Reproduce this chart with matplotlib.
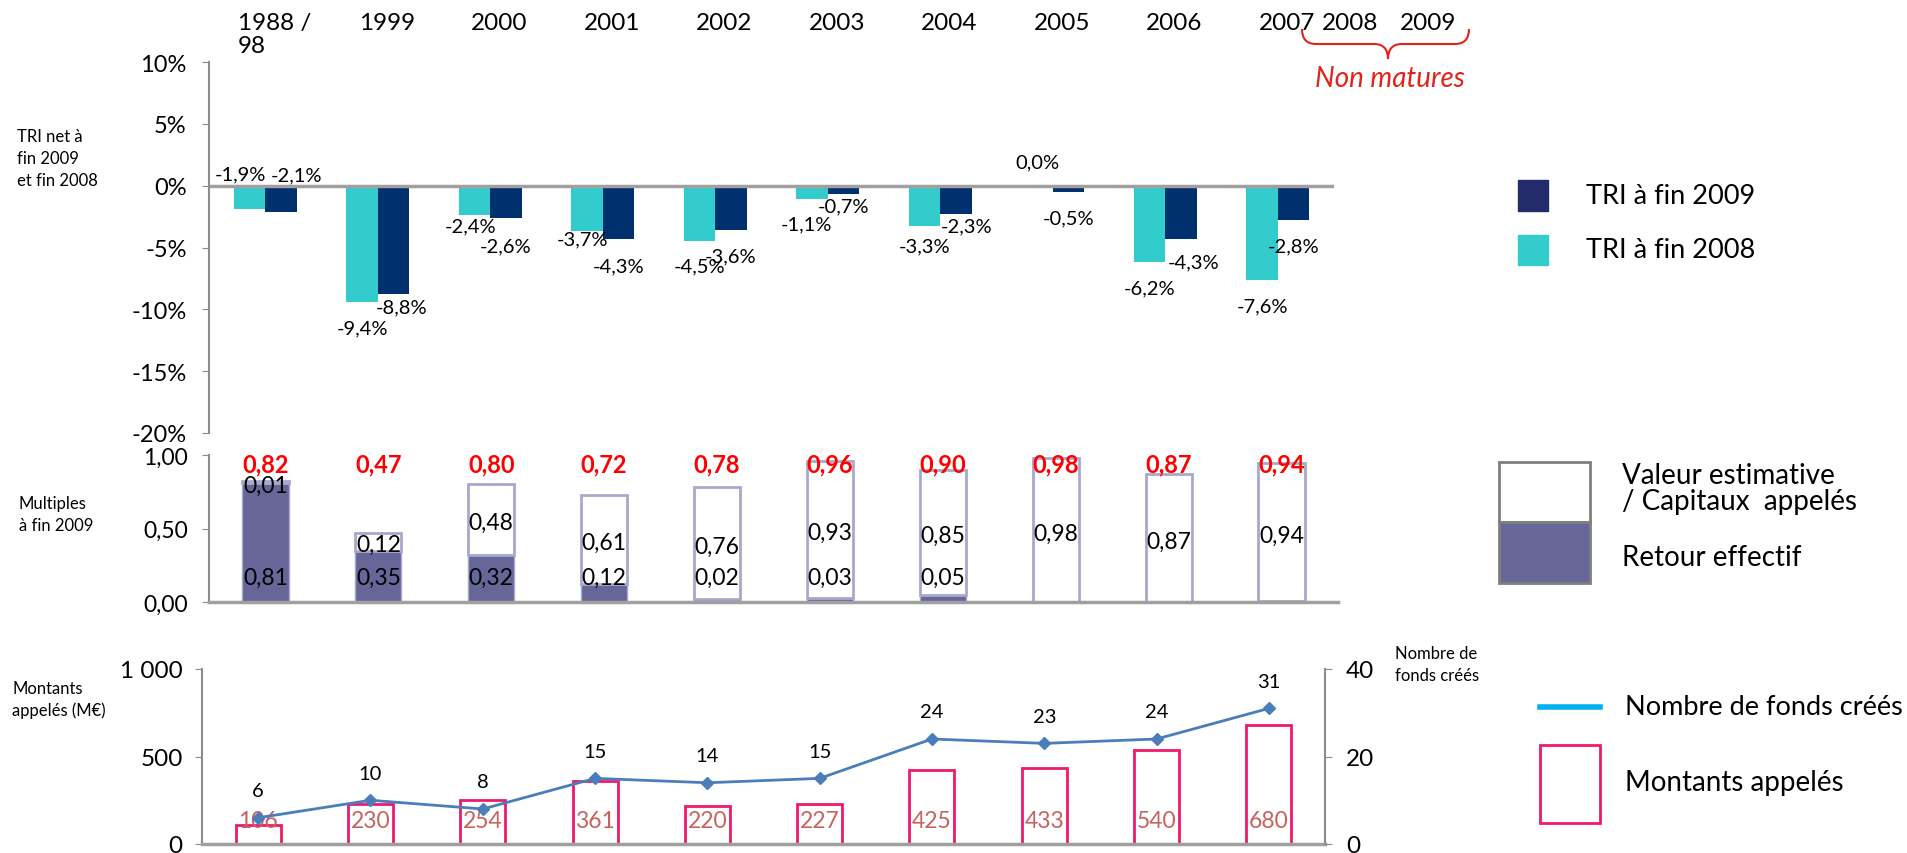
import matplotlib
matplotlib.use("Agg")
import matplotlib.pyplot as plt
from matplotlib.patches import Rectangle, PathPatch
from matplotlib.path import Path
from matplotlib.transforms import blended_transform_factory
import numpy as np

plt.rcParams['font.family'] = ['Lato', 'DejaVu Sans']

# --- data ---
years = ["1988 /\n98", "1999", "2000", "2001", "2002", "2003", "2004", "2005", "2006", "2007"]
extra_years = ["2008", "2009"]

tri_2008 = [-1.9, -9.4, -2.4, -3.7, -4.5, -1.1, -3.3, 0.0, -6.2, -7.6]
tri_2009 = [-2.1, -8.8, -2.6, -4.3, -3.6, -0.7, -2.3, -0.5, -4.3, -2.8]

retour = [0.81, 0.35, 0.32, 0.12, 0.02, 0.03, 0.05, 0.0, 0.0, 0.004]
valeur = [0.01, 0.12, 0.48, 0.61, 0.76, 0.93, 0.85, 0.98, 0.87, 0.94]
multiple_total = [0.82, 0.47, 0.80, 0.72, 0.78, 0.96, 0.90, 0.98, 0.87, 0.94]

montants = [106, 230, 254, 361, 220, 227, 425, 433, 540, 680]
nb_fonds = [6, 10, 8, 15, 14, 15, 24, 23, 24, 31]

# label nudges in pixels (excel moved them around to avoid overlaps)
nudge_2008 = [(-9, 35), (0, -26), (-4, -11), (-4, -7), (0, -25), (-6, -25), (0, -19), (0, 24), (0, -26), (0, -26)]
nudge_2009 = [(16, 37), (8, -12), (0, -28), (0, -27), (0, -26), (0, -12), (11, -12), (0, -26), (13, -23), (0, -26)]

CYAN = '#33CCCC'
NAVY = '#00306E'
NAVY_LEG = '#232B6B'
PURPLE = '#666699'
LAVENDER = '#A8A8CC'
PINK = '#EE1A6E'
LINE = '#4A7EBB'
GRAY = '#8C8C8C'
RED = '#E3221B'


def fmt_fr(v, nd=1):
    return f"{v:.{nd}f}".replace('.', ',')


W, H = 1907, 854
fig = plt.figure(figsize=(W / 100, H / 100), dpi=100)


def box(l, t, r, b):
    return [l / W, 1 - b / H, (r - l) / W, (b - t) / H]


x = np.arange(len(years))

# --- top: TRI ---
ax1 = fig.add_axes(box(209, 63, 1334, 434))
bw = 0.28
ax1.bar(x - bw / 2, tri_2008, bw, color=CYAN)
ax1.bar(x + bw / 2, tri_2009, bw, color=NAVY)
ax1.axhline(0, color='#A0A0A0', lw=2.5)
ax1.set_xlim(-0.5, 9.5)
ax1.set_ylim(-20, 10)
ax1.set_yticks(np.arange(-20, 11, 5))
ax1.set_yticklabels([f"{v}%" for v in range(-20, 11, 5)])
ax1.set_xticks([])
for s in ['top', 'right', 'bottom']:
    ax1.spines[s].set_visible(False)
ax1.spines['left'].set_color(GRAY)
ax1.spines['left'].set_linewidth(1.5)
ax1.tick_params(axis='y', direction='out', length=5, color=GRAY, labelsize=17, pad=11)

for i in range(len(years)):
    ax1.annotate(fmt_fr(tri_2008[i]) + "%", (x[i] - bw / 2, tri_2008[i]),
                 xytext=nudge_2008[i], textcoords='offset pixels',
                 ha='center', va='center', fontsize=14.5)
    ax1.annotate(fmt_fr(tri_2009[i]) + "%", (x[i] + bw / 2, tri_2009[i]),
                 xytext=nudge_2009[i], textcoords='offset pixels',
                 ha='center', va='center', fontsize=14.5)

# --- middle: multiples ---
ax2 = fig.add_axes(box(209, 456, 1338, 603))
mw = 0.41
ax2.bar(x, retour, mw, color=PURPLE, edgecolor=LAVENDER, lw=1)
ax2.bar(x, valeur, mw, bottom=retour, color='white', edgecolor=LAVENDER, lw=2)
ax2.set_xlim(-0.5, 9.5)
ax2.set_ylim(0, 1)
ax2.set_yticks([0, 0.5, 1.0])
ax2.set_yticklabels(["0,00", "0,50", "1,00"])
ax2.set_xticks([])
for s in ['top', 'right']:
    ax2.spines[s].set_visible(False)
ax2.spines['left'].set_color(GRAY)
ax2.spines['left'].set_linewidth(1.5)
ax2.spines['bottom'].set_color('#A0A0A0')
ax2.spines['bottom'].set_linewidth(2.5)
ax2.tick_params(axis='y', direction='out', length=5, color=GRAY, labelsize=16.5, pad=10)

for i in range(len(years)):
    ax2.text(x[i], 0.94, fmt_fr(multiple_total[i], 2), color='red', fontweight='bold',
             ha='center', va='center', fontsize=17)
    ax2.text(x[i], retour[i] + valeur[i] / 2 - 0.02, fmt_fr(valeur[i], 2),
             ha='center', va='center', fontsize=16.5)
    if retour[i] >= 0.01:
        ax2.text(x[i], 0.17, fmt_fr(retour[i], 2), ha='center', va='center', fontsize=16.5)

# --- bottom: montants + nombre de fonds ---
ax3 = fig.add_axes(box(202, 670, 1325, 845))
ax3.bar(x, montants, 0.4, color='white', edgecolor=PINK, lw=2)
ax3.set_xlim(-0.5, 9.5)
ax3.set_ylim(0, 1000)
ax3.set_yticks([0, 500, 1000])
ax3.set_yticklabels(["0", "500", "1 000"])
ax3.set_xticks([])
for s in ['top', 'right']:
    ax3.spines[s].set_visible(False)
ax3.spines['left'].set_color(GRAY)
ax3.spines['left'].set_linewidth(1.5)
ax3.spines['bottom'].set_color('#A0A0A0')
ax3.spines['bottom'].set_linewidth(2.5)
ax3.tick_params(axis='y', direction='out', length=5, color=GRAY, labelsize=17.5, pad=9)
for i in range(len(years)):
    ax3.text(x[i], 137, str(montants[i]), color='#C8625F', ha='center', va='center', fontsize=16.5)

ax3b = ax3.twinx()
ax3b.plot(x, nb_fonds, color=LINE, lw=2, marker='D', ms=6)
ax3b.set_ylim(0, 40)
ax3b.set_yticks([0, 20, 40])
for s in ['top', 'left', 'bottom']:
    ax3b.spines[s].set_visible(False)
ax3b.spines['right'].set_color(GRAY)
ax3b.spines['right'].set_linewidth(1.5)
ax3b.tick_params(axis='y', direction='out', length=5, color=GRAY, labelsize=17.5, pad=10)
for i in range(len(years)):
    ax3b.annotate(str(nb_fonds[i]), (x[i], nb_fonds[i]), xytext=(0, 27),
                  textcoords='offset pixels', ha='center', va='center', fontsize=14.5)

# --- overlay for free texts and legends ---
ov = fig.add_axes([0, 0, 1, 1])
ov.set_xlim(0, W)
ov.set_ylim(H, 0)
ov.axis('off')

trans = blended_transform_factory(ax1.transData, ov.transData)
for i, lab in enumerate(years):
    ov.text(x[i] + 0.08, 13, lab, transform=trans, ha='center', va='top',
            multialignment='left', fontsize=17.5, linespacing=1.1)
for pos, lab in zip([9.64, 10.34], extra_years):
    ov.text(pos, 13, lab, transform=trans, ha='center', va='top', fontsize=17.5)

# brace under 2008/2009
verts = [(1302, 30), (1302, 45), (1316, 45), (1374, 45), (1388, 45), (1388, 60),
         (1388, 45), (1402, 45), (1455, 45), (1469, 45), (1469, 30)]
codes = [Path.MOVETO, Path.CURVE3, Path.CURVE3, Path.LINETO, Path.CURVE3, Path.CURVE3,
         Path.CURVE3, Path.CURVE3, Path.LINETO, Path.CURVE3, Path.CURVE3]
ov.add_patch(PathPatch(Path(verts, codes), fill=False, edgecolor=RED, lw=1.5))
ov.text(1390, 79, "Non matures", color=RED, style='italic', fontsize=20, ha='center', va='center')

ov.text(17, 159, "TRI net à\nfin 2009\net fin 2008", fontsize=12, va='center', linespacing=1.45)
ov.text(19, 515, "Multiples\nà fin 2009", fontsize=12, va='center', linespacing=1.45)
ov.text(12, 700, "Montants\nappelés (M€)", fontsize=12, va='center', linespacing=1.45)
ov.text(1395, 665, "Nombre de\nfonds créés", fontsize=12, va='center', linespacing=1.45)

# legends
ov.add_patch(Rectangle((1518, 181), 30, 31, color=NAVY_LEG))
ov.text(1586, 196, "TRI à fin 2009", fontsize=19.5, va='center')
ov.add_patch(Rectangle((1518, 236), 30, 30, color=CYAN))
ov.text(1586, 251, "TRI à fin 2008", fontsize=19.5, va='center')

ov.add_patch(Rectangle((1499, 463), 91, 60, facecolor='white', edgecolor='#7F7F7F', lw=2))
ov.add_patch(Rectangle((1499, 523), 91, 61, facecolor=PURPLE, edgecolor='#7F7F7F', lw=2))
ov.text(1622, 489, "Valeur estimative\n/ Capitaux  appelés", fontsize=20, va='center', linespacing=1.0)
ov.text(1622, 558, "Retour effectif", fontsize=20, va='center')

ov.plot([1540, 1600], [708, 708], color='#00B0F0', lw=4)
ov.add_patch(Rectangle((1540, 746), 60, 78, facecolor='white', edgecolor=PINK, lw=2))
ov.text(1625, 708, "Nombre de fonds créés", fontsize=19.5, va='center')
ov.text(1625, 783, "Montants appelés", fontsize=20, va='center')

fig.savefig("out.png", dpi=100)
